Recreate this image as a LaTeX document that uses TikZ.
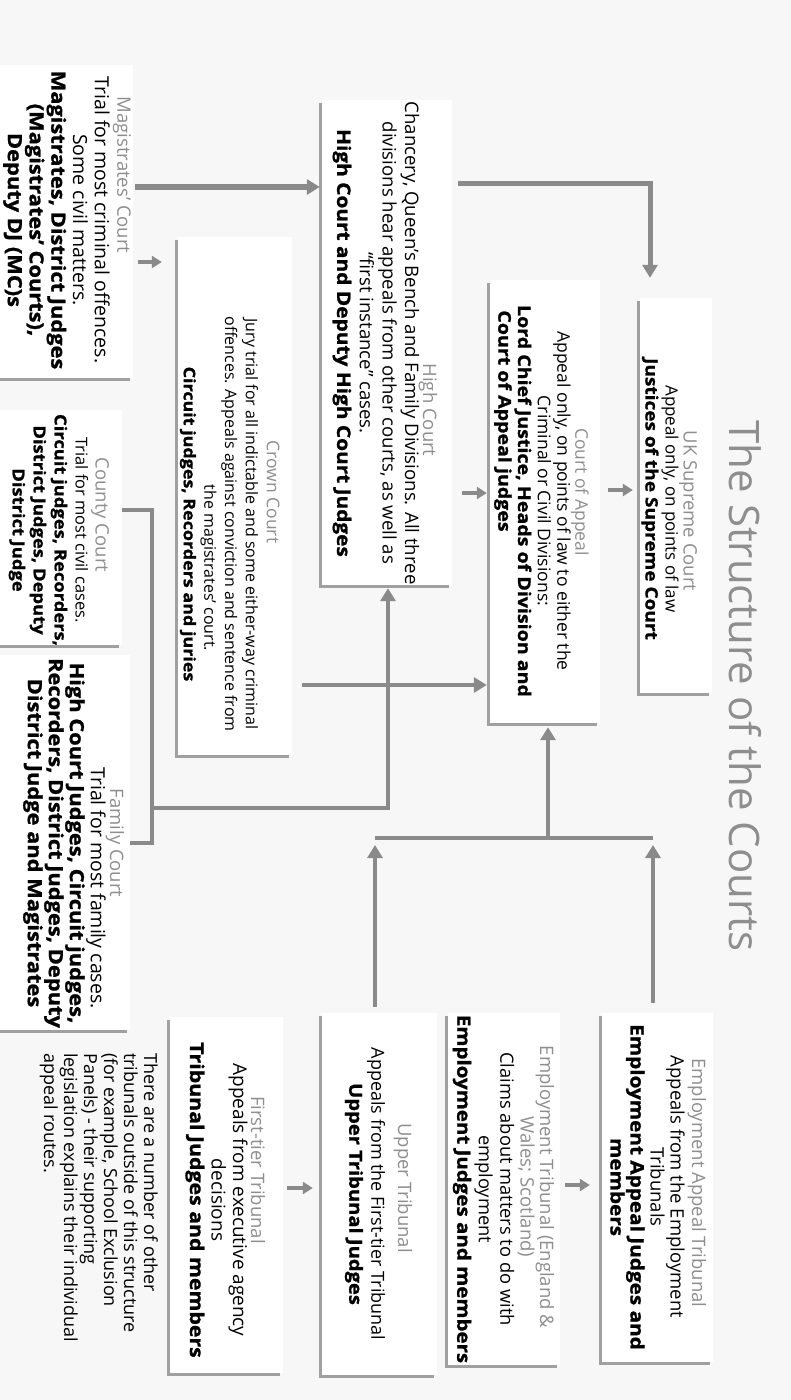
\documentclass[tikz,border=0pt]{standalone}
\usepackage{fontspec}
\setmainfont{Open Sans}[BoldFeatures={FakeStretch=1.12,FakeBold=1.2}]
\usetikzlibrary{arrows.meta,shadows,fit}
\definecolor{ln}{HTML}{8A8A8A}
\definecolor{ttlc}{HTML}{8E8E8E}
\definecolor{bgc}{HTML}{F7F7F7}
\newcommand{\fs}[2]{\fontsize{#1}{#2}\selectfont}
\begin{document}
\begin{tikzpicture}[x=1pt,y=-1pt,
  box/.style={fill=white, inner sep=0pt, draw=none,
    drop shadow={shadow xshift=-3pt,shadow yshift=-3pt,fill=black,opacity=0.35}},
  body/.style={rotate=-90, align=center, inner sep=0pt},
  ttl/.style={rotate=-90, align=center, text=ttlc, inner sep=0pt, font=\fs{18.5}{20}},
  conn/.style={draw=ln, line width=4.5pt},
  arr/.style={conn, -{Triangle[width=15pt,length=13pt]}},
  sarr/.style={draw=ln, line width=4pt, -{Triangle[width=12pt,length=10pt]}},
]
\fill[bgc] (0,0) rectangle (791,1400);
\useasboundingbox (0,0) rectangle (791,1400);

% row / column helper coordinates
\coordinate (r183) at (0,183);
\coordinate (r187) at (0,187);
\coordinate (r262) at (0,262);
\coordinate (r493) at (0,493);
\coordinate (r490) at (0,490);
\coordinate (r510) at (0,510);
\coordinate (r685) at (0,685);
\coordinate (r808) at (0,808);
\coordinate (r838) at (0,838);
\coordinate (r843) at (0,843);
\coordinate (r845) at (0,845);
\coordinate (r1185) at (0,1185);
\coordinate (r1188) at (0,1188);
\coordinate (c152) at (152,0);
\coordinate (c388) at (388,0);
\coordinate (c375) at (375,0);
\coordinate (c548) at (548,0);
\coordinate (c650) at (650,0);
\coordinate (c653) at (653,0);
\coordinate (c302) at (302,0);

% boxes
\node[box, fit={(-10,65) (133,378)}] (mag) {};
\node[box, fit={(322,100) (452,585)}] (high) {};
\node[box, fit={(178,237) (292,755)}] (crown) {};
\node[box, fit={(490,280) (600,723)}] (coa) {};
\node[box, fit={(640,298) (712,693)}] (uksc) {};
\node[box, fit={(-10,410) (122,645)}] (county) {};
\node[box, fit={(-10,655) (130,1030)}] (family) {};
\node[box, fit={(602,1013) (713,1362)}] (eat) {};
\node[box, fit={(448,1013) (560,1365)}] (et) {};
\node[box, fit={(322,1013) (437,1375)}] (ut) {};
\node[box, fit={(170,1017) (283,1373)}] (ftt) {};

% title
\node[rotate=-90, text=ttlc, font=\fs{42}{46}] (title) at (745,686) {The Structure of the Courts};

% Magistrates
\node[ttl] (magT) at (122,175) {Magistrates’ Court};
\node[body, font=\fs{19.5}{21.75}] (magB) at (56.5,220) {Trial for most criminal offences.\\Some civil matters.\\\textbf{Magistrates, District Judges}\\\textbf{(Magistrates’ Courts),}\\\textbf{Deputy DJ (MC)s}};

% High Court
\node[ttl] (highT) at (428,410) {High Court};
\node[body, font=\fs{18.6}{22.7}] (highB) at (376,343) {Chancery, Queen’s Bench and Family Divisions. All three\\divisions hear appeals from other courts, as well as\\“first instance” cases.\hspace*{56pt}\\\textbf{High Court and Deputy High Court Judges}};

% Crown Court
\node[ttl, font=\fs{17.5}{20}] (crownT) at (273,492) {Crown Court};
\node[body, font=\fs{16}{20.7}] (crownB) at (219,524) {Jury trial for all indictable and some either-way criminal\\offences. Appeals against conviction and sentence from\\\hspace*{88pt}the magistrates’ court.\\\textbf{Circuit judges, Recorders and juries}};

% Court of Appeal
\node[ttl, font=\fs{17.5}{20}] (coaT) at (580,492) {Court of Appeal};
\node[body, font=\fs{17.5}{19.7}] (coaB) at (532.5,501) {Appeal only, on points of law to either the\\Criminal or Civil Divisions:\\\textbf{Lord Chief Justice, Heads of Division and}\\\textbf{Court of Appeal judges}\hspace*{160pt}};

% UK Supreme Court
\node[ttl] (ukscT) at (688,511) {UK Supreme Court};
\node[body, font=\fs{17}{20}] (ukscB) at (660,499) {Appeal only, on points of law\\\textbf{Justices of the Supreme Court}};

% County Court
\node[ttl] (countyT) at (100,515) {County Court};
\node[body, font=\fs{16.4}{21}] (countyB) at (48.5,530) {Trial for most civil cases.\\\textbf{Circuit judges, Recorders,}\\\textbf{District Judges, Deputy}\\\textbf{District Judge}};

% Family Court
\node[ttl] (familyT) at (115,843) {Family Court};
\node[body, font=\fs{19.5}{21}] (familyB) at (64.5,843) {\hspace*{90pt}Trial for most family cases.\\\textbf{High Court Judges, Circuit judges,}\\\textbf{Recorders, District Judges, Deputy}\\\textbf{District Judge and Magistrates}};

% Employment Appeal Tribunal
\node[ttl] (eatT) at (697,1183) {Employment Appeal Tribunal};
\node[body, font=\fs{18.5}{20}] (eatB) at (647.5,1187) {Appeals from the Employment\\Tribunals\\\textbf{Employment Appeal Judges and}\\\textbf{members}};

% Employment Tribunal
\node[ttl, font=\fs{18.5}{18}] (etT) at (536,1187) {Employment Tribunal (England \&\\Wales; Scotland)};
\node[body, font=\fs{18.3}{21.5}] (etB) at (483.5,1189) {Claims about matters to do with\\employment\\\textbf{Employment Judges and members}};

% Upper Tribunal
\node[ttl] (utT) at (403,1188) {Upper Tribunal};
\node[body, font=\fs{18}{22}] (utB) at (365,1194) {Appeals from the First-tier Tribunal\\\textbf{Upper Tribunal Judges}};

% First-tier Tribunal
\node[ttl] (fttT) at (258,1170) {First-tier Tribunal};
\node[body, font=\fs{19}{21.5}] (fttB) at (216.5,1200) {Appeals from executive agency\\decisions\\\textbf{Tribunal Judges and members}};

% note
\node[rotate=-90, align=left, inner sep=0pt, anchor=north west, font=\fs{18}{20}] (note) at (158,1053) {There are a number of other\\tribunals outside of this structure\\(for example, School Exclusion\\Panels) - their supporting\\legislation explains their individual\\appeal routes.};

% connectors
\draw[arr, line width=5.5pt, shorten <=2pt, shorten >=2pt] (mag.east |- r187) -- (high.west |- r187);
\draw[sarr, shorten <=5pt, shorten >=16pt] (mag.east |- r262) -- (crown.west |- r262);
\draw[arr, line width=5pt, shorten <=6pt, shorten >=20pt] (high.east |- r183) -- (c650 |- r183) -- (c650 |- uksc.north);
\draw[sarr, shorten <=10pt, shorten >=3pt] (high.east |- r493) -- (coa.west |- r493);
\draw[sarr, shorten <=8pt, shorten >=7pt] (coa.east |- r490) -- (uksc.west |- r490);
\draw[arr, shorten >=3pt] (c302 |- r685) -- (coa.west |- r685);
\draw[conn] (county.east |- r510) -- (c152 |- r510) -- (c152 |- r843) -- (family.east |- r843);
\draw[arr, shorten >=3pt] (c152 |- r808) -- (c388 |- r808) -- (c388 |- high.south);
\draw[conn, line width=4pt] (c375 |- r838) -- (c653 |- r838);
\draw[arr, shorten >=4pt] (c548 |- r838) -- (c548 |- coa.south);
\draw[arr, line width=4pt, shorten <=6pt] (c375 |- ut.north) -- (c375 |- r845);
\draw[arr, line width=4pt, shorten <=10pt] (c653 |- eat.north) -- (c653 |- r845);
\draw[sarr, shorten <=5pt, shorten >=12pt] (et.east |- r1185) -- (eat.west |- r1185);
\draw[sarr, shorten <=4pt, shorten >=9pt] (ftt.east |- r1188) -- (ut.west |- r1188);
\end{tikzpicture}
\end{document}
